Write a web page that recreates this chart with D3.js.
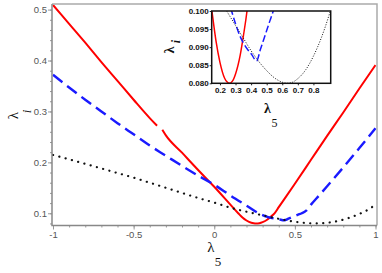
<!DOCTYPE html>
<html>
<head>
<meta charset="utf-8">
<script src="https://cdn.jsdelivr.net/npm/d3@7"></script>
<style>
  body { margin: 0; background: #fff; }
  svg { display: block; }
</style>
</head>
<body>
<div id="chart"></div>
<script>
// curves (lambda_5 -> lambda_i)
const redX = [-1, -0.9, -0.8, -0.7, -0.6, -0.5, -0.4, -0.355, -0.34, -0.322, -0.3, -0.2, -0.1, 0, 0.1, 0.15, 0.175, 0.2, 0.23, 0.245, 0.26, 0.28, 0.3, 0.33, 0.35, 0.375, 0.4, 0.5, 0.6, 0.7, 0.8, 0.9, 1]
const redY = [0.509, 0.472, 0.435, 0.397, 0.360, 0.323, 0.287, 0.272, null, 0.264, 0.253, 0.219, 0.185, 0.152, 0.117, 0.0995, 0.0916, 0.0858, 0.0814, 0.0804, 0.080, 0.0806, 0.0826, 0.0878, 0.093, 0.1005, 0.112, 0.158, 0.205, 0.252, 0.298, 0.345, 0.391]

const blueX = [-1, -0.9, -0.8, -0.7, -0.6, -0.5, -0.4, -0.3, -0.2, -0.1, 0, 0.1, 0.2, 0.275, 0.3, 0.33, 0.35, 0.38, 0.4, 0.435, 0.46, 0.49, 0.52, 0.542, 0.57, 0.6, 0.65, 0.7, 0.8, 0.9, 1]
const blueY = [0.372, 0.347, 0.323, 0.300, 0.277, 0.255, 0.233, 0.213, 0.193, 0.174, 0.156, 0.135, 0.115, 0.100, 0.0965, 0.0929, 0.0912, 0.0892, 0.0882, 0.0862, 0.0894, 0.0933, 0.0972, 0.100, 0.105, 0.117, 0.135, 0.153, 0.190, 0.228, 0.267]

const blackX = [-1, -0.9, -0.8, -0.7, -0.6, -0.5, -0.4, -0.3, -0.2, -0.1, 0, 0.1, 0.2, 0.243, 0.3, 0.35, 0.4, 0.45, 0.5, 0.55, 0.6, 0.63, 0.66, 0.7, 0.75, 0.8, 0.85, 0.9, 0.95, 1]
const blackY = [0.2145, 0.206, 0.197, 0.188, 0.179, 0.170, 0.160, 0.150, 0.140, 0.130, 0.121, 0.111, 0.103, 0.100, 0.096, 0.0925, 0.089, 0.086, 0.0835, 0.0815, 0.0803, 0.080, 0.0802, 0.0813, 0.0837, 0.0875, 0.0925, 0.0988, 0.1064, 0.117]

const mainXTicks = [-1, -0.5, 0, 0.5, 1]
const mainYTicks = [0.1, 0.2, 0.3, 0.4, 0.5]
const insetXTicks = [0.2, 0.3, 0.4, 0.5, 0.6, 0.7, 0.8]
const insetYTicks = [0.080, 0.085, 0.090, 0.095, 0.100]

const width = 382, height = 273

const series = [
  { xs: redX, ys: redY, color: '#ff0000', main: { w: 2, dash: null }, inset: { w: 1.5, dash: null } },
  { xs: blueX, ys: blueY, color: '#1a1aff', main: { w: 2.4, dash: '12,6' }, inset: { w: 1.5, dash: '7,3' } },
  { xs: blackX, ys: blackY, color: '#111', main: { w: 2.2, dash: '0.1,6.4', cap: 'round' }, inset: { w: 1, dash: '1,1.6' } }
]

const svg = d3.select('#chart').append('svg')
  .attr('width', width).attr('height', height)

// ---- main plot
const x = d3.scaleLinear().domain([-1, 1]).range([53, 375.5])
const y = d3.scaleLinear().domain([0.076, 0.511]).range([225.5, 4])
const frame = { l: 52, r: 377, t: 4, b: 225.5 }

const xAxis = d3.axisBottom(x).tickValues(mainXTicks).tickSize(4).tickPadding(2)
  .tickFormat(d => String(d))
const xMinor = d3.axisBottom(x).tickValues(d3.range(-1, 1.001, 0.1)).tickSize(2).tickFormat('')
const yAxis = d3.axisLeft(y).tickValues(mainYTicks).tickSize(4).tickPadding(1)
  .tickFormat(d3.format('.1f'))
const yMinor = d3.axisLeft(y).tickValues(d3.range(0.08, 0.511, 0.02)).tickSize(2).tickFormat('')

const styleAxis = g => {
  g.select('.domain').remove()
  g.selectAll('line').attr('stroke', '#999')
  g.selectAll('text').attr('fill', '#555')
    .style('font-family', 'Liberation Sans, Arial, sans-serif').style('font-size', '9.5px')
}

svg.append('g').attr('transform', `translate(0,${frame.b})`).call(xMinor).call(styleAxis)
svg.append('g').attr('transform', `translate(0,${frame.b})`).call(xAxis).call(styleAxis)
svg.append('g').attr('transform', `translate(${frame.l},0)`).call(yMinor).call(styleAxis)
svg.append('g').attr('transform', `translate(${frame.l},0)`).call(yAxis).call(styleAxis)

svg.append('defs').append('clipPath').attr('id', 'mainclip')
  .append('rect').attr('x', frame.l).attr('y', frame.t)
  .attr('width', frame.r - frame.l).attr('height', frame.b - frame.t)

const mainLine = d3.line()
  .defined(d => d[1] != null)
  .x(d => x(d[0])).y(d => y(d[1]))
  .curve(d3.curveMonotoneX)

const mainG = svg.append('g').attr('clip-path', 'url(#mainclip)')
series.forEach(s => {
  mainG.append('path')
    .datum(s.xs.map((v, i) => [v, s.ys[i]]))
    .attr('d', mainLine)
    .attr('fill', 'none')
    .attr('stroke', s.color)
    .attr('stroke-width', s.main.w)
    .attr('stroke-dasharray', s.main.dash)
    .attr('stroke-linecap', s.main.cap || 'butt')
})

// frame: top/right lighter, left/bottom axes
svg.append('path')
  .attr('d', `M${frame.l},${frame.t}H${frame.r}V${frame.b}`)
  .attr('fill', 'none').attr('stroke', '#aaa').attr('stroke-width', 1.5)
svg.append('path')
  .attr('d', `M${frame.l},${frame.t}V${frame.b}H${frame.r}`)
  .attr('fill', 'none').attr('stroke', '#888').attr('stroke-width', 1.5)

// ---- inset
const ix = d3.scaleLinear().domain([0.147, 0.911]).range([211.7, 330.7])
const iy = d3.scaleLinear().domain([0.080, 0.100]).range([83.3, 11])
const inset = { l: 211.7, r: 330.7, t: 11, b: 83.3 }

svg.append('rect')
  .attr('x', inset.l).attr('y', inset.t)
  .attr('width', inset.r - inset.l).attr('height', inset.b - inset.t)
  .attr('fill', '#fff')

svg.select('defs').append('clipPath').attr('id', 'insetclip')
  .append('rect').attr('x', inset.l).attr('y', inset.t)
  .attr('width', inset.r - inset.l).attr('height', inset.b - inset.t)

const insetLine = d3.line()
  .defined(d => d[1] != null)
  .x(d => ix(d[0])).y(d => iy(d[1]))
  .curve(d3.curveMonotoneX)

const insetG = svg.append('g').attr('clip-path', 'url(#insetclip)')
series.forEach(s => {
  insetG.append('path')
    .datum(s.xs.map((v, i) => [v, s.ys[i]]))
    .attr('d', insetLine)
    .attr('fill', 'none')
    .attr('stroke', s.color)
    .attr('stroke-width', s.inset.w)
    .attr('stroke-dasharray', s.inset.dash)
})

const styleInsetAxis = g => {
  g.select('.domain').remove()
  g.selectAll('line').attr('stroke', '#222')
  g.selectAll('text').attr('fill', '#111')
    .style('font-family', 'Liberation Sans, Arial, sans-serif')
    .style('font-size', '8px').style('font-weight', 'bold')
}

svg.append('g').attr('transform', `translate(0,${inset.b})`)
  .call(d3.axisBottom(ix).tickValues(insetXTicks).tickSize(2).tickPadding(2).tickFormat(d3.format('.1f')))
  .call(styleInsetAxis)
svg.append('g').attr('transform', `translate(${inset.l},0)`)
  .call(d3.axisLeft(iy).tickValues(insetYTicks).tickSize(2).tickPadding(1).tickFormat(d3.format('.3f')))
  .call(styleInsetAxis)

svg.append('rect')
  .attr('x', inset.l).attr('y', inset.t)
  .attr('width', inset.r - inset.l).attr('height', inset.b - inset.t)
  .attr('fill', 'none').attr('stroke', '#111').attr('stroke-width', 1.5)

// ---- axis labels
const label = (px, py, txt, size, opts = {}) => {
  svg.append('text')
    .attr('x', px).attr('y', py)
    .attr('text-anchor', 'middle')
    .attr('dominant-baseline', 'central')
    .attr('transform', opts.rot ? `rotate(-90,${px},${py})` : null)
    .style('font-family', 'Liberation Serif, Times New Roman, serif')
    .style('font-size', size + 'px')
    .style('font-weight', opts.bold ? 'bold' : 'normal')
    .style('font-style', opts.italic ? 'italic' : 'normal')
    .attr('fill', '#111')
    .text(txt)
}

label(12.5, 115.5, 'λ', 15, { rot: true })
label(26.5, 111.5, 'i', 13, { rot: true, italic: true })
label(211, 246.5, 'λ', 15)
label(218, 261.5, '5', 13)

label(169, 50, 'λ', 14, { rot: true, bold: true })
label(175.5, 41.5, 'i', 12, { rot: true, italic: true, bold: true })
label(267.5, 108, 'λ', 14, { bold: true })
label(274.5, 122.5, '5', 12)
</script>
</body>
</html>
